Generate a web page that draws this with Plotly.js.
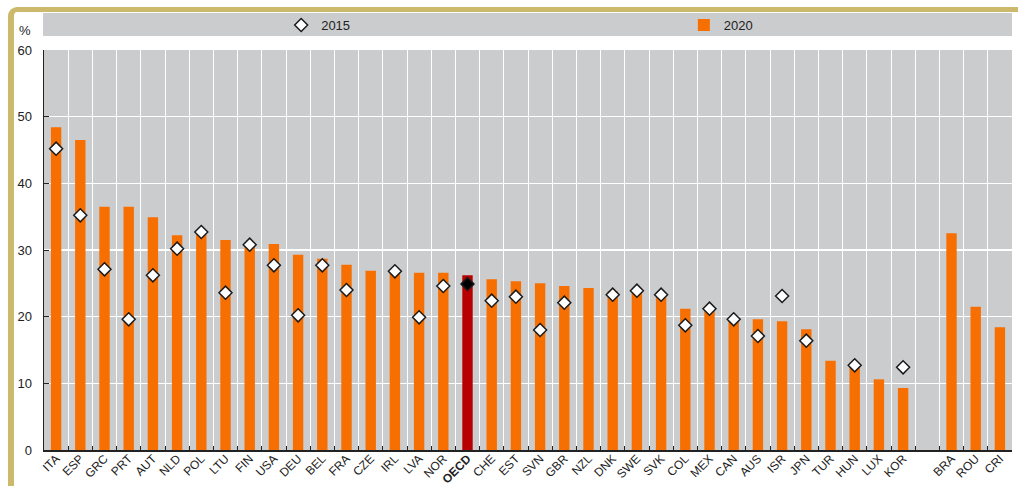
<!DOCTYPE html>
<html><head><meta charset="utf-8">
<script src="https://cdn.plot.ly/plotly-3.0.1.min.js"></script>
<style>
html,body{margin:0;padding:0;background:#fff;overflow:hidden;}
#frame{position:absolute;left:8px;top:7px;width:1030px;height:500px;border-left:6px solid #CDB96B;border-top:5px solid #CDB96B;border-top-left-radius:9px;box-sizing:border-box;}
#chart{position:absolute;left:0;top:0;width:1018px;height:486px;}
</style></head><body>
<div id="frame"></div>
<div id="chart"></div>
<script>
const categories = ['ITA','ESP','GRC','PRT','AUT','NLD','POL','LTU','FIN','USA','DEU','BEL','FRA','CZE','IRL','LVA','NOR','OECD','CHE','EST','SVN','GBR','NZL','DNK','SWE','SVK','COL','MEX','CAN','AUS','ISR','JPN','TUR','HUN','LUX','KOR',' ','BRA','ROU','CRI'];
const tickLabels = ['ITA','ESP','GRC','PRT','AUT','NLD','POL','LTU','FIN','USA','DEU','BEL','FRA','CZE','IRL','LVA','NOR','<b>OECD</b>','CHE','EST','SVN','GBR','NZL','DNK','SWE','SVK','COL','MEX','CAN','AUS','ISR','JPN','TUR','HUN','LUX','KOR','','BRA','ROU','CRI'];
const values2020 = [48.4,46.5,36.5,36.5,34.9,32.2,32.3,31.5,30.6,30.9,29.3,28.7,27.8,26.9,26.8,26.6,26.6,26.2,25.6,25.3,25.0,24.6,24.3,23.8,23.6,22.9,21.2,20.9,19.6,19.6,19.3,18.1,13.4,12.4,10.6,9.3,null,32.5,21.5,18.4];
const values2015 = [45.2,35.2,27.1,19.6,26.2,30.2,32.7,23.6,30.8,27.7,20.2,27.7,24.0,null,26.8,19.9,24.6,24.9,22.4,23.0,18.0,22.1,null,23.3,23.9,23.3,18.7,21.2,19.6,17.1,23.1,16.4,null,12.7,null,12.4,null,null,null,null];
const seriesNames = ['2015','2020'];

const ORANGE = '#F76F00', RED = '#B70000';
const barColors = categories.map(c => c === 'OECD' ? RED : ORANGE);
const dotColors = categories.map(c => c === 'OECD' ? '#000000' : '#FFFFFF');

const traces = [
  {type:'scatter', mode:'markers', name:seriesNames[0], x:categories, y:values2015, legend:'legend',
   marker:{symbol:'diamond', size:10, color:dotColors, line:{color:'#1a1a1a', width:1.5}}, hoverinfo:'x+y'},
  {type:'bar', name:seriesNames[1], x:categories, y:values2020, legend:'legend2',
   marker:{color:barColors, line:{width:0}}, hoverinfo:'x+y'}
];

const FONT = '"Liberation Sans", Arial, sans-serif';
const legFont = {size:13, family:FONT, color:'#222'};
const layout = {
  width:1018, height:486,
  margin:{l:44, r:6, t:50, b:36},
  paper_bgcolor:'rgba(0,0,0,0)',
  plot_bgcolor:'#CBCCCE',
  font:{family:FONT, color:'#222', size:13},
  bargap:0.57,
  showlegend:true,
  legend:{orientation:'h', x:0.245, xanchor:'left', y:1.0625, yanchor:'middle',
          bgcolor:'rgba(0,0,0,0)', font:legFont},
  legend2:{orientation:'h', x:0.661, xanchor:'left', y:1.0625, yanchor:'middle',
          bgcolor:'rgba(0,0,0,0)', font:legFont},
  xaxis:{type:'category', categoryorder:'array', categoryarray:categories,
         tickmode:'array', tickvals:categories, ticktext:tickLabels,
         tickson:'boundaries', ticks:'inside', ticklen:4, tickcolor:'#222',
         showgrid:true, gridcolor:'#FFFFFF', gridwidth:1,
         showline:true, linecolor:'#222', linewidth:2,
         tickangle:-45, tickfont:{size:12, family:FONT, color:'#222'}, ticklabelstandoff:-5,
         range:[-0.5, 39.5], fixedrange:true},
  yaxis:{range:[0,60], dtick:10, tick0:0, ticks:'inside', ticklen:5, tickcolor:'#222',
         showline:true, linecolor:'#222', linewidth:1.5,
         showgrid:true, gridcolor:'#FFFFFF', gridwidth:1.5, zeroline:false,
         tickfont:{size:13, family:FONT, color:'#222'}, ticklabelstandoff:8, fixedrange:true},
  shapes:[{type:'rect', xref:'paper', yref:'paper', x0:-0.001, x1:1.0, y0:1.035, y1:1.0925,
           fillcolor:'#CBCCCE', line:{width:0}, layer:'below'}],
  annotations:[{text:'%', xref:'paper', yref:'paper', x:-0.0196, y:1.0475,
                xanchor:'center', yanchor:'middle', showarrow:false,
                font:{size:13, family:FONT, color:'#222'}}]
};

Plotly.newPlot('chart', traces, layout, {displayModeBar:false, staticPlot:true});
</script>
</body></html>
